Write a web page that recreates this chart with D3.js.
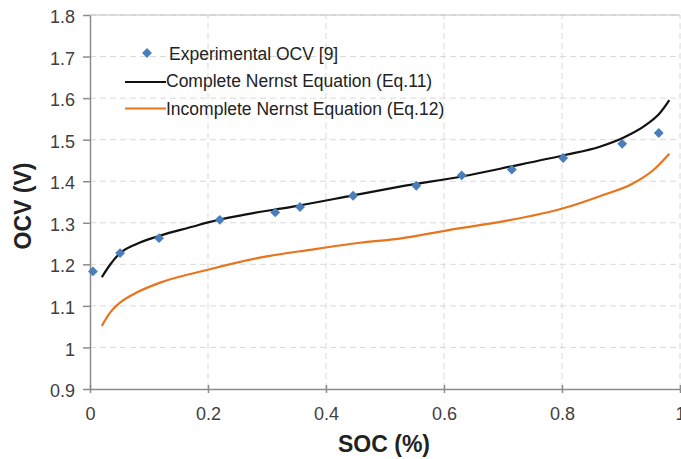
<!DOCTYPE html>
<html>
<head>
<meta charset="utf-8">
<script src="https://cdn.jsdelivr.net/npm/d3@7"></script>
<style>
  body { margin: 0; background: #fff; }
  svg { font-family: "Liberation Sans", Arial, sans-serif; }
</style>
</head>
<body>
<svg id="chart" width="681" height="459"></svg>
<script>
// Experimental OCV points [9]
const expSoc = [0.005, 0.051, 0.117, 0.22, 0.314, 0.356, 0.446, 0.553, 0.63, 0.715, 0.802, 0.902, 0.964];
const expOcv = [1.183, 1.227, 1.263, 1.307, 1.325, 1.338, 1.365, 1.389, 1.414, 1.428, 1.456, 1.49, 1.516];

// Complete Nernst equation (Eq.11)
const fullSoc = [0.02, 0.034, 0.048, 0.079, 0.119, 0.175, 0.2, 0.26, 0.344, 0.446, 0.525, 0.632, 0.712, 0.805, 0.864, 0.903, 0.943, 0.966, 0.982];
const fullOcv = [1.169, 1.199, 1.223, 1.249, 1.269, 1.291, 1.301, 1.319, 1.339, 1.366, 1.387, 1.412, 1.435, 1.463, 1.483, 1.504, 1.536, 1.564, 1.595];

// Incomplete Nernst equation (Eq.12)
const partSoc = [0.02, 0.034, 0.051, 0.079, 0.119, 0.2, 0.288, 0.373, 0.458, 0.525, 0.61, 0.695, 0.805, 0.864, 0.921, 0.955, 0.982];
const partOcv = [1.052, 1.084, 1.108, 1.132, 1.156, 1.187, 1.216, 1.235, 1.252, 1.262, 1.283, 1.302, 1.336, 1.364, 1.395, 1.427, 1.466];

const xTicks = [0, 0.2, 0.4, 0.6, 0.8, 1];
const yTicks = [0.9, 1, 1.1, 1.2, 1.3, 1.4, 1.5, 1.6, 1.7, 1.8];

const legendLabels = ["Experimental OCV [9]", "Complete Nernst Equation (Eq.11)", "Incomplete Nernst Equation (Eq.12)"];

const svg = d3.select("#chart");
const margin = { left: 90, right: 1, top: 15, bottom: 70 };
const width = 681, height = 459;

const x = d3.scaleLinear().domain([0, 1]).range([margin.left, width - margin.right]);
const y = d3.scaleLinear().domain([0.9, 1.8]).range([height - margin.bottom, margin.top]);

// gridlines
svg.append("g")
    .selectAll("line")
    .data(yTicks.slice(1))
    .join("line")
    .attr("x1", margin.left).attr("x2", width - margin.right)
    .attr("y1", d => y(d)).attr("y2", d => y(d))
    .attr("stroke", "#d9d9d9")
    .attr("stroke-dasharray", "6,4");

svg.append("g")
    .selectAll("line")
    .data(xTicks.slice(1))
    .join("line")
    .attr("x1", d => x(d)).attr("x2", d => x(d))
    .attr("y1", y(0.9)).attr("y2", y(1.8))
    .attr("stroke", "#d9d9d9")
    .attr("stroke-dasharray", "6,4");

// top border
svg.append("line")
    .attr("x1", margin.left).attr("x2", width - margin.right)
    .attr("y1", y(1.8)).attr("y2", y(1.8))
    .attr("stroke", "#bfbfbf");

// axes
const xAxis = svg.append("g")
    .attr("transform", `translate(0,${y(0.9)})`)
    .call(d3.axisBottom(x).tickValues(xTicks).tickFormat(d3.format("")).tickSizeInner(4).tickSizeOuter(0).tickPadding(9));
xAxis.selectAll(".tick line").attr("y1", -4);

const yAxis = svg.append("g")
    .attr("transform", `translate(${margin.left},0)`)
    .call(d3.axisLeft(y).tickValues(yTicks).tickFormat(d3.format("")).tickSizeInner(7).tickSizeOuter(0).tickPadding(8));

[xAxis, yAxis].forEach(a => {
    a.select(".domain").attr("stroke", "#8c8c8c").attr("stroke-width", 1.5);
    a.selectAll(".tick line").attr("stroke", "#8c8c8c").attr("stroke-width", 1.5);
    a.selectAll("text").attr("fill", "#404040").style("font-size", "18px").style("font-family", "Liberation Sans, Arial, sans-serif");
});
xAxis.selectAll("text").attr("dy", "1.0em");
yAxis.selectAll("text").attr("dy", "0.42em");

// axis titles
svg.append("text")
    .attr("x", 384)
    .attr("y", 452)
    .attr("text-anchor", "middle")
    .attr("font-weight", "bold")
    .attr("font-size", "23px")
    .attr("fill", "#222")
    .text("SOC (%)");

svg.append("text")
    .attr("transform", "translate(31,206) rotate(-90)")
    .attr("text-anchor", "middle")
    .attr("font-weight", "bold")
    .attr("font-size", "23px")
    .attr("fill", "#222")
    .text("OCV (V)");

// curves
const line = d3.line().x(d => x(d[0])).y(d => y(d[1])).curve(d3.curveMonotoneX);

svg.append("path")
    .datum(partSoc.map((s, i) => [s, partOcv[i]]))
    .attr("d", line)
    .attr("fill", "none")
    .attr("stroke", "#e8741c")
    .attr("stroke-width", 2.2);

svg.append("path")
    .datum(fullSoc.map((s, i) => [s, fullOcv[i]]))
    .attr("d", line)
    .attr("fill", "none")
    .attr("stroke", "#111")
    .attr("stroke-width", 2.2);

// experimental diamonds
const diamond = d3.symbol().type(d3.symbolDiamond2).size(62);
svg.append("g")
    .selectAll("path")
    .data(expSoc.map((s, i) => [s, expOcv[i]]))
    .join("path")
    .attr("transform", d => `translate(${x(d[0])},${y(d[1])})`)
    .attr("d", diamond)
    .attr("fill", "#4a7ebb");

// legend
const lg = svg.append("g").attr("font-size", "17.5px").attr("fill", "#222");
lg.append("path")
    .attr("transform", "translate(147,53)")
    .attr("d", diamond)
    .attr("fill", "#4a7ebb");
lg.append("line").attr("x1", 125).attr("x2", 166).attr("y1", 82).attr("y2", 82)
    .attr("stroke", "#111").attr("stroke-width", 2.2);
lg.append("line").attr("x1", 125).attr("x2", 166).attr("y1", 108.5).attr("y2", 108.5)
    .attr("stroke", "#e8741c").attr("stroke-width", 2.2);
lg.selectAll("text")
    .data(legendLabels)
    .join("text")
    .attr("x", (d, i) => i === 0 ? 169 : 166)
    .attr("y", (d, i) => 59.5 + i * 27.5)
    .text(d => d);
</script>
</body>
</html>
